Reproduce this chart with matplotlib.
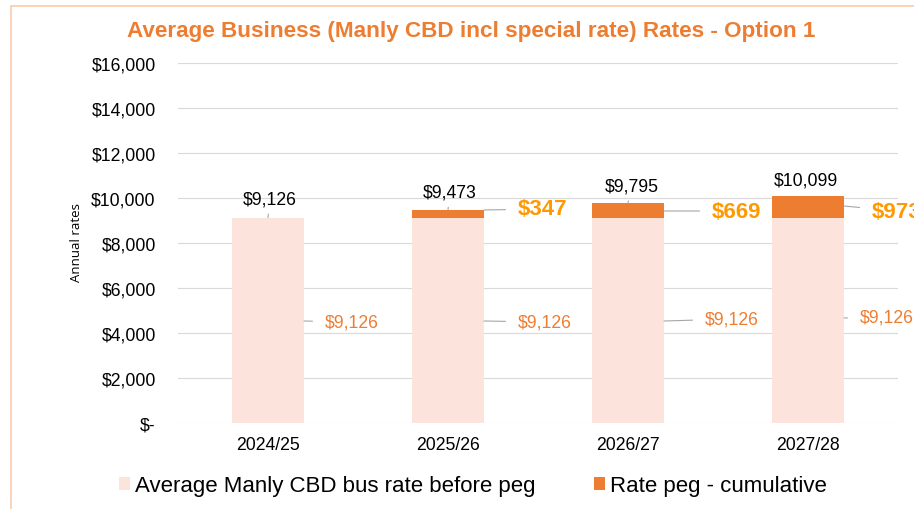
import matplotlib.pyplot as plt
from matplotlib.patches import Rectangle
from matplotlib.ticker import FuncFormatter

plt.rcParams['font.family'] = ['Liberation Sans', 'DejaVu Sans']

years = ['2024/25', '2025/26', '2026/27', '2027/28']
base_rate = [9126, 9126, 9126, 9126]
peg_cumulative = [0, 347, 669, 973]
totals = [9126, 9473, 9795, 10099]

base_col = '#FCE4DC'
peg_col = '#ED7D31'
grid_col = '#D9D9D9'
lead_col = '#A6A6A6'

fig = plt.figure(figsize=(9.14, 5.10), dpi=100)
ax = fig.add_axes([178 / 914, 1 - 424 / 510, 720 / 914, 360 / 510])

# outer frame of the chart object
fig.patches.append(Rectangle((11 / 914, -0.1), 1.2, 1 - 7 / 510 + 0.1,
                             transform=fig.transFigure, fill=False,
                             edgecolor='#F8CBAD', lw=1.2))

x = list(range(len(years)))
ax.bar(x, base_rate, width=0.4, color=base_col, zorder=2,
       label='Average Manly CBD bus rate before peg')
ax.bar(x, peg_cumulative, width=0.4, bottom=base_rate, color=peg_col, zorder=2,
       label='Rate peg - cumulative')

ax.set_xlim(-0.5, 3.5)
ax.set_ylim(0, 16000)
ax.set_yticks(range(0, 16001, 2000))
ax.yaxis.set_major_formatter(FuncFormatter(lambda v, p: '$-' if v == 0 else f'${v:,.0f}'))
ax.set_xticks(x)
ax.set_xticklabels(years)
ax.tick_params(axis='y', length=0, pad=16, labelsize=12.7)
ax.tick_params(axis='x', length=0, pad=9, labelsize=12.7)
ax.grid(axis='y', color=grid_col, lw=0.8, zorder=0)
for s in ax.spines.values():
    s.set_visible(False)

ax.set_ylabel('Annual rates', family=['Open Sans', 'DejaVu Sans'], fontsize=9.5)
ax.yaxis.set_label_coords(-0.132, 0.503)

# totals above each bar (offsets in pixels)
tot_off = [(2, 19), (2, 18), (4, 17), (-2, 16)]
for i, t in enumerate(totals):
    arrow = dict(arrowstyle='-', color=lead_col, lw=0.8, shrinkA=3, shrinkB=0) if i < 3 else None
    ax.annotate(f'${t:,}', xy=(i, t), xytext=tot_off[i], textcoords='offset pixels',
                ha='center', va='center', fontsize=12.7, color='black',
                arrowprops=arrow, annotation_clip=False)

# base rate labels to the right of each bar
base_y = [4533, 4533, 4533, 4667]
base_off = [(21, -1), (34, -1), (41, 2), (16, 1)]
for i, v in enumerate(base_rate):
    ax.annotate(f'${v:,}', xy=(i + 0.2, base_y[i]), xytext=base_off[i],
                textcoords='offset pixels', ha='left', va='center',
                fontsize=12.7, color='#ED7D31',
                arrowprops=dict(arrowstyle='-', color=lead_col, lw=0.8,
                                shrinkA=7, shrinkB=0),
                annotation_clip=False)

# cumulative peg labels
peg_y = [None, 9467, 9422, 9644]
peg_off = [None, (34, 1), (48, 0), (28, -5)]
for i, v in enumerate(peg_cumulative):
    if v == 0:
        continue
    ax.annotate(f'${v:,}', xy=(i + 0.2, peg_y[i]), xytext=peg_off[i],
                textcoords='offset pixels', ha='left', va='center',
                fontsize=16, fontweight='bold', color='#FF9900',
                arrowprops=dict(arrowstyle='-', color=lead_col, lw=0.8,
                                shrinkA=7, shrinkB=0),
                annotation_clip=False)

fig.text(471 / 914, 1 - 32 / 510, 'Average Business (Manly CBD incl special rate) Rates - Option 1',
         ha='center', va='center', fontsize=16.2, fontweight='bold', color='#ED7D31',
         family=['Liberation Sans Narrow', 'Liberation Sans', 'DejaVu Sans'])

fig.legend(loc='center', bbox_to_anchor=(473 / 914, 1 - 487 / 510), ncol=2,
           frameon=False, fontsize=16, handlelength=0.5, handleheight=0.5,
           handletextpad=0.25, columnspacing=2.6, borderpad=0)

fig.savefig('out.png', dpi=100)
